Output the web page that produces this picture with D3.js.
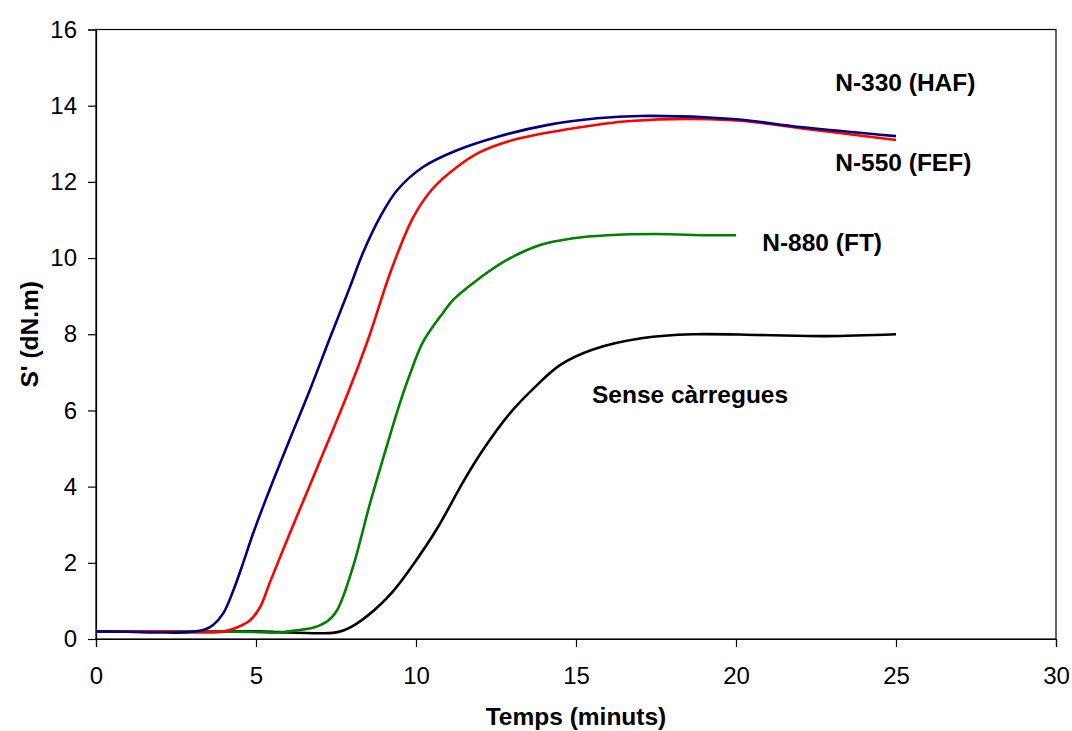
<!DOCTYPE html>
<html>
<head>
<meta charset="utf-8">
<script src="https://cdn.jsdelivr.net/npm/d3@7"></script>
<style>
  body { margin: 0; background: #fff; }
  svg text { font-family: Arial, "Liberation Sans", sans-serif; }
</style>
</head>
<body>
<div id="chart"></div>
<script>
// values (minutes, dN.m)
const xTicks = [0, 5, 10, 15, 20, 25, 30];
const yTicks = [0, 2, 4, 6, 8, 10, 12, 14, 16];

const haf = [[0,0.2],[1,0.19],[2,0.17],[2.9,0.18],[3.4,0.25],[3.66,0.37],[3.98,0.68],[4.28,1.25],[4.6,2.0],
  [4.9,2.75],[5.44,3.95],[6.06,5.25],[6.69,6.55],[7.31,7.9],[7.94,9.25],[8.34,10.13],[8.88,11.08],
  [9.41,11.78],[10.22,12.39],[11.28,12.83],[12.53,13.18],[14.09,13.49],[15.66,13.67],[17,13.73],
  [19.9,13.65],[22,13.44],[25,13.2]];
const fef = [[0,0.2],[2,0.2],[3.5,0.17],[4.0,0.2],[4.3,0.27],[4.8,0.48],[5.13,0.84],[5.44,1.5],[6.06,2.78],
  [6.69,4.05],[7.31,5.3],[7.94,6.6],[8.56,8.0],[9.19,9.6],[9.9,11.05],[10.5,11.8],[11.28,12.39],
  [12.0,12.78],[13.03,13.1],[14.59,13.36],[16.69,13.6],[19.9,13.62],[22,13.41],[25,13.1]];
const ft = [[0,0.2],[4,0.2],[5.1,0.18],[5.7,0.17],[6.2,0.22],[6.8,0.3],[7.25,0.48],[7.55,0.78],[8.03,1.89],
  [8.56,3.55],[9.05,4.96],[9.5,6.2],[9.81,6.95],[10.22,7.8],[10.84,8.56],[11.16,8.9],[11.78,9.34],
  [12.84,9.95],[13.88,10.34],[14.91,10.52],[15.97,10.6],[17.53,10.63],[19.09,10.6],[20,10.6]];
const sense = [[0,0.2],[3,0.2],[5,0.2],[5.5,0.19],[6,0.17],[7,0.15],[7.4,0.16],[7.75,0.23],[8.1,0.38],
  [8.47,0.6],[8.88,0.9],[9.28,1.25],[9.91,1.95],[10.66,2.9],[11.47,4.12],[12.09,4.96],[12.94,5.93],
  [13.7,6.6],[14.5,7.19],[15.53,7.6],[17.09,7.9],[18.66,8.0],[20.75,7.98],[22.84,7.95],[25,8.0]];

const series = [
  { name: "Sense càrregues", values: sense, color: "#000000" },
  { name: "N-880 (FT)", values: ft, color: "#008000" },
  { name: "N-550 (FEF)", values: fef, color: "#ff0000" },
  { name: "N-330 (HAF)", values: haf, color: "#000080" }
];
const labels = [
  { text: "N-330 (HAF)", x: 23.1, y: 14.62 },
  { text: "N-550 (FEF)", x: 23.1, y: 12.52 },
  { text: "N-880 (FT)", x: 20.82, y: 10.42 },
  { text: "Sense càrregues", x: 15.5, y: 6.43 }
];

const width = 1072, height = 731;
const margin = { top: 29.5, right: 16, bottom: 92, left: 96 };

const svg = d3.select("#chart").append("svg")
  .attr("width", width).attr("height", height);

const x = d3.scaleLinear().domain([0, 30]).range([margin.left, width - margin.right]);
const y = d3.scaleLinear().domain([0, 16]).range([height - margin.bottom, margin.top]);

// frame
svg.append("rect")
  .attr("x", x(0)).attr("y", y(16))
  .attr("width", x(30) - x(0)).attr("height", y(0) - y(16))
  .attr("fill", "none").attr("stroke", "#000").attr("stroke-width", 1.2);

const xAxis = svg.append("g")
  .attr("transform", "translate(0," + y(0) + ")")
  .call(d3.axisBottom(x).tickValues(xTicks).tickSize(8).tickPadding(20));
const yAxis = svg.append("g")
  .attr("transform", "translate(" + x(0) + ",0)")
  .call(d3.axisLeft(y).tickValues(yTicks).tickSize(8).tickPadding(11));
[xAxis, yAxis].forEach(g => {
  g.select(".domain").attr("stroke", "#000").attr("stroke-width", 1.2);
  g.selectAll(".tick line").attr("stroke", "#000").attr("stroke-width", 1.2);
  g.selectAll(".tick text").attr("fill", "#000").style("font-size", "24px");
});

const line = d3.line()
  .x(d => x(d[0]))
  .y(d => y(d[1]))
  .curve(d3.curveCatmullRom.alpha(0.5));

svg.selectAll(".curve")
  .data(series)
  .enter()
  .append("path")
  .attr("class", "curve")
  .attr("d", d => line(d.values))
  .attr("fill", "none")
  .attr("stroke", d => d.color)
  .attr("stroke-width", 2.6)
  .attr("stroke-linejoin", "round");

svg.selectAll(".lbl")
  .data(labels)
  .enter()
  .append("text")
  .attr("class", "lbl")
  .attr("x", d => x(d.x))
  .attr("y", d => y(d.y))
  .attr("dy", "0.35em")
  .style("font-size", "24.5px")
  .style("font-weight", "bold")
  .text(d => d.text);

// axis titles
svg.append("text")
  .attr("x", (x(0) + x(30)) / 2)
  .attr("y", 725)
  .attr("text-anchor", "middle")
  .style("font-size", "24.5px")
  .style("font-weight", "bold")
  .text("Temps (minuts)");

svg.append("text")
  .attr("transform", "translate(38," + ((y(0) + y(16)) / 2) + ") rotate(-90)")
  .attr("text-anchor", "middle")
  .style("font-size", "24.5px")
  .style("font-weight", "bold")
  .text("S' (dN.m)");
</script>
</body>
</html>
